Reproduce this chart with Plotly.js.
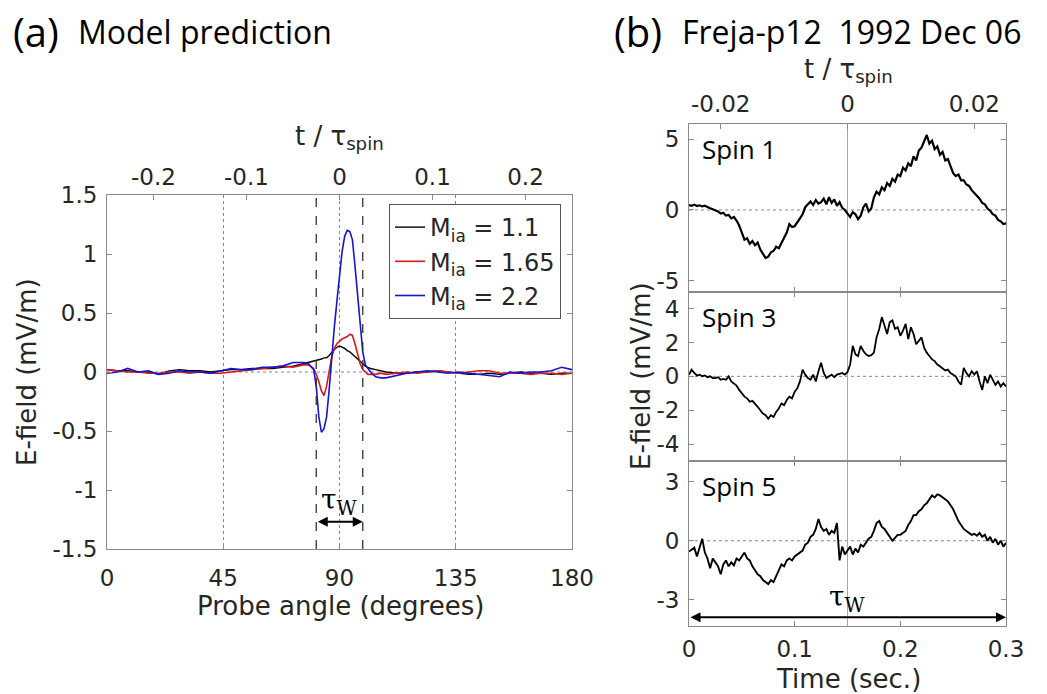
<!DOCTYPE html>
<html>
<head>
<meta charset="utf-8">
<script src="https://cdn.plot.ly/plotly-3.0.1.min.js"></script>
<style>html,body{margin:0;padding:0;background:#fff;}#chart{width:1047px;height:694px;}</style>
</head>
<body>
<div id="chart"></div>
<script>
// ---------- Panel (a): model prediction ----------
const angle = [0,4,8,12,16,20,24,28,32,36,40,44,48,52,56,60,64,68,72,76,
  78,80,81,82,83,84,85,86,87,88,89,90,91,92,93,94,95,96,97,98,99,100,101,102,
  104,106,108,112,116,120,124,128,132,136,140,144,148,152,156,160,164,168,172,176,180];
const eM110 = [0.02,0.01,0.01,0.0,0.0,-0.02,0.01,0.02,0.01,0.01,0.0,0.01,0.02,0.02,0.03,0.03,0.03,0.04,0.05,0.07,
  0.08,0.09,0.1,0.1,0.11,0.12,0.12,0.14,0.17,0.19,0.21,0.22,0.21,0.2,0.18,0.17,0.15,0.13,0.11,0.09,0.07,0.05,0.04,0.03,
  0.02,0.01,0.0,-0.01,-0.01,0.0,0.0,0.01,0.0,-0.01,-0.02,-0.02,-0.01,-0.02,-0.01,0.0,-0.01,-0.01,-0.02,-0.01,-0.01];
const eM165 = [0.02,0.01,0.0,0.0,-0.01,-0.01,0.0,0.0,-0.01,0.0,-0.01,-0.01,0.0,0.01,0.02,0.03,0.04,0.05,0.04,0.06,
  0.06,0.03,-0.02,-0.08,-0.16,-0.2,-0.12,0.01,0.13,0.2,0.24,0.26,0.28,0.29,0.3,0.32,0.31,0.24,0.15,0.07,0.02,0.0,-0.02,-0.02,
  -0.02,-0.01,-0.02,-0.01,0.0,-0.01,0.0,0.01,0.0,-0.01,0.0,0.01,0.01,-0.01,-0.01,-0.01,-0.02,-0.01,-0.01,-0.02,-0.01];
const eM220 = [-0.01,0.0,0.03,0.0,0.01,-0.02,-0.01,0.01,0.0,0.0,-0.01,0.01,0.03,0.02,0.02,0.04,0.04,0.05,0.08,0.08,
  0.07,0.02,-0.12,-0.38,-0.51,-0.48,-0.38,-0.15,0.14,0.38,0.6,0.82,1.02,1.15,1.2,1.19,1.12,0.9,0.65,0.4,0.17,0.06,0.03,0.0,
  -0.04,-0.05,-0.05,-0.03,-0.01,0.0,0.01,0.0,-0.01,0.0,-0.01,-0.02,-0.03,-0.04,0.0,-0.01,0.0,0.0,0.01,0.04,0.02];
const legendNames = ['M<sub>ia</sub> = 1.1','M<sub>ia</sub> = 1.65','M<sub>ia</sub> = 2.2'];
const tauWEdges = [81, 99];          // probe angles of the tau_W window
const angleTicks = [0,45,90,135,180];
const aYTicks = [-1.5,-1,-0.5,0,0.5,1,1.5];
const aYTickText = ['-1.5','-1','-0.5','0','0.5','1','1.5'];
const aTopTicks = [-0.2,-0.1,0,0.1,0.2];
const aTopTickText = ['-0.2','-0.1','0','0.1','0.2'];

// ---------- Panel (b): Freja observations ----------
const time = [0,0.0025,0.005,0.0075,0.01,0.0125,0.015,0.0175,0.02,0.0225,
  0.025,0.0275,0.03,0.0325,0.035,0.0375,0.04,0.0425,0.045,0.0475,
  0.05,0.0525,0.055,0.0575,0.06,0.0625,0.065,0.0675,0.07,0.0725,
  0.075,0.0775,0.08,0.0825,0.085,0.0875,0.09,0.0925,0.095,0.0975,
  0.1,0.1025,0.105,0.1075,0.11,0.1125,0.115,0.1175,0.12,0.1225,
  0.125,0.1275,0.13,0.1325,0.135,0.1375,0.14,0.1425,0.145,0.1475,
  0.15,0.1525,0.155,0.1575,0.16,0.1625,0.165,0.1675,0.17,0.1725,
  0.175,0.1775,0.18,0.1825,0.185,0.1875,0.19,0.1925,0.195,0.1975,
  0.2,0.2025,0.205,0.2075,0.21,0.2125,0.215,0.2175,0.22,0.2225,
  0.225,0.2275,0.23,0.2325,0.235,0.2375,0.24,0.2425,0.245,0.2475,
  0.25,0.2525,0.255,0.2575,0.26,0.2625,0.265,0.2675,0.27,0.2725,
  0.275,0.2775,0.28,0.2825,0.285,0.2875,0.29,0.2925,0.295,0.2975,
  0.3];
const spin1 = [0.35,0.3,0.38,0.28,0.33,0.25,0.3,0.18,0.12,0.05,
  0.0,-0.1,-0.25,-0.2,-0.4,-0.35,-0.6,-0.5,-0.75,-1.1,
  -1.6,-2.1,-2.0,-2.4,-2.2,-2.5,-2.3,-2.8,-3.1,-3.4,
  -3.3,-3.0,-2.9,-2.6,-2.7,-2.3,-2.0,-1.6,-1.0,-1.2,
  -1.15,-0.9,-0.6,-0.3,0.2,0.4,0.6,0.35,0.7,0.45,
  0.55,0.8,0.4,0.9,0.5,0.75,0.3,0.55,0.15,0.0,
  -0.3,-0.5,-0.15,-0.3,-0.65,-0.4,0.2,0.45,-0.1,0.1,
  0.9,1.3,1.1,1.6,1.4,1.9,1.7,2.2,2.0,2.5,
  2.4,3.0,2.8,3.3,3.1,3.8,3.5,4.2,4.4,4.8,
  5.3,4.7,4.9,4.3,4.5,3.9,4.1,3.5,3.6,3.1,
  2.6,2.4,2.5,2.1,2.1,1.8,1.7,1.4,1.2,1.0,
  0.8,0.5,0.4,0.1,-0.05,-0.3,-0.4,-0.7,-0.8,-1.0,
  -0.95];
const spin3 = [0.1,0.4,0.2,0.05,0.1,0.0,0.05,-0.05,0.0,-0.1,
  -0.1,-0.05,-0.2,-0.15,-0.2,0.0,-0.3,-0.4,-0.55,-0.8,
  -1.0,-1.2,-1.3,-1.5,-1.45,-1.6,-1.8,-2.0,-2.2,-2.3,
  -2.5,-2.3,-2.4,-2.1,-1.9,-1.6,-1.7,-1.4,-1.2,-1.3,
  -0.9,-0.7,-0.3,0.4,0.1,-0.1,-0.2,0.1,-0.3,0.3,
  0.8,0.2,-0.1,0.0,0.1,-0.05,0.1,0.15,0.2,0.1,
  0.25,0.7,1.8,1.3,1.2,1.8,1.5,1.3,1.2,1.25,
  1.4,2.3,2.8,3.5,3.0,2.5,3.2,3.3,2.8,2.9,
  2.4,2.7,3.1,2.2,2.9,2.5,1.9,2.1,2.3,1.7,
  1.4,1.2,1.0,0.9,0.7,0.6,0.5,0.35,0.4,0.2,
  0.1,0.0,-0.3,-0.5,0.5,0.2,0.0,0.3,0.1,0.3,
  -0.3,-0.8,0.0,-0.4,0.1,-0.2,-0.5,-0.3,-0.6,-0.4,
  -0.6];
const spin5 = [-0.55,-0.45,-0.35,-0.8,-0.3,0.1,-0.6,-0.9,-1.4,-0.9,
  -1.1,-1.3,-1.7,-1.2,-1.0,-1.3,-1.1,-1.25,-0.9,-1.0,
  -0.8,-0.6,-0.9,-1.0,-1.3,-1.5,-1.7,-1.8,-2.0,-2.1,
  -2.2,-2.0,-2.1,-1.8,-1.5,-1.2,-1.3,-1.0,-0.9,-1.0,
  -0.8,-0.7,-0.6,-0.5,-0.2,-0.1,0.2,0.3,0.6,1.1,
  0.7,0.5,0.6,0.3,0.5,0.4,0.9,-1.0,-0.3,-0.7,
  -0.5,-0.3,-0.7,-0.4,-0.6,-0.2,-0.3,-0.1,0.1,0.2,
  0.5,0.9,1.0,0.7,0.6,0.4,0.2,0.0,0.15,0.3,
  0.3,0.4,0.5,0.8,1.0,1.3,1.3,1.5,1.6,1.8,
  1.9,2.1,2.3,2.2,2.35,2.3,2.2,2.1,2.0,1.8,
  1.6,1.3,1.0,0.8,0.6,0.5,0.4,0.3,0.35,0.25,
  0.4,0.2,0.3,0.0,0.2,-0.1,0.1,-0.2,0.0,-0.3,
  -0.1];
const spinNames = ['Spin 1','Spin 3','Spin 5'];
const timeTicks = [0,0.1,0.2,0.3];
const timeTickText = ['0','0.1','0.2','0.3'];
const bTopTicks = [-0.02,0,0.02];
const bTopTickText = ['-0.02','0','0.02'];
const s1Ticks = [-5,0,5], s1Text = ['-5','0','5'];
const s3Ticks = [-4,-2,0,2,4], s3Text = ['-4','-2','0','2','4'];
const s5Ticks = [-3,0,3], s5Text = ['-3','0','3'];
const tauWSpan = [0, 0.3];
const tauWCentre = 0.15;

// ---------- styling ----------
const W = 1047, H = 694;
const TXT = '#262626', AX = '#8a8a8a';
const tickFont = {family:'DejaVu Sans', size:23, color:TXT};
const titleFont = {family:'DejaVu Sans', size:26, color:TXT};
const headFont = 'Open Sans';
const px = v => v / W;
const py = v => 1 - v / H;

function baseAxis(extra) {
  return Object.assign({
    showline:true, linecolor:AX, linewidth:1, mirror:'ticks',
    ticks:'inside', ticklen:5, tickcolor:AX, tickwidth:1,
    showgrid:false, zeroline:false, tickfont:tickFont, tickmode:'array'
  }, extra);
}

const traces = [
  {x:angle, y:eM110, name:legendNames[0], type:'scatter', mode:'lines', line:{color:'#000000', width:1.4}, xaxis:'x', yaxis:'y'},
  {x:angle, y:eM165, name:legendNames[1], type:'scatter', mode:'lines', line:{color:'#d7191c', width:1.6}, xaxis:'x', yaxis:'y'},
  {x:angle, y:eM220, name:legendNames[2], type:'scatter', mode:'lines', line:{color:'#1515d6', width:1.6}, xaxis:'x', yaxis:'y'},
  {x:time, y:spin1, name:spinNames[0], type:'scatter', mode:'lines', line:{color:'#000', width:2.2}, xaxis:'x3', yaxis:'y3', showlegend:false},
  {x:time, y:spin3, name:spinNames[1], type:'scatter', mode:'lines', line:{color:'#000', width:1.8}, xaxis:'x4', yaxis:'y4', showlegend:false},
  {x:time, y:spin5, name:spinNames[2], type:'scatter', mode:'lines', line:{color:'#000', width:1.9}, xaxis:'x5', yaxis:'y5', showlegend:false},
  // empty traces that only register the secondary (top) t/tau_spin axes
  {x:[], y:[], type:'scatter', mode:'lines', xaxis:'x2', yaxis:'y', showlegend:false, hoverinfo:'skip'},
  {x:[], y:[], type:'scatter', mode:'lines', xaxis:'x6', yaxis:'y3', showlegend:false, hoverinfo:'skip'}
];

const aX = [px(107), px(572)];
const aY = [py(549), py(195)];
const bX = [px(689), px(1006)];
const b1 = [py(291.7), py(124)];
const b3 = [py(461), py(291.7)];
const b5 = [py(626), py(461)];

const layout = {
  width:W, height:H, margin:{l:0,r:0,t:0,b:0},
  paper_bgcolor:'#fff', plot_bgcolor:'#fff',
  showlegend:true,
  legend:{x:px(561), xanchor:'right', y:py(204), yanchor:'top',
    bgcolor:'#fff', bordercolor:'#555', borderwidth:1,
    font:{family:'DejaVu Sans', size:24, color:TXT}, tracegroupgap:0},
  xaxis: baseAxis({domain:aX, anchor:'y', range:[0,180], tickvals:angleTicks, ticktext:angleTicks.map(String),
    mirror:true, showgrid:true, gridcolor:'#888', griddash:'dot', gridwidth:1, ticklabelstandoff:8}),
  yaxis: baseAxis({domain:aY, anchor:'x', range:[-1.5,1.5], tickvals:aYTicks, ticktext:aYTickText, ticklabelstandoff:4}),
  xaxis2: baseAxis({overlaying:'x', anchor:'y', side:'top', range:[-0.25,0.25], tickvals:aTopTicks, ticktext:aTopTickText,
    showline:false, mirror:false, ticklabelstandoff:4}),
  xaxis3: baseAxis({domain:bX, anchor:'y3', range:[0,0.3], tickvals:timeTicks, showticklabels:false, mirror:true}),
  yaxis3: baseAxis({domain:b1, anchor:'x3', range:[-5.78,6.08], tickvals:s1Ticks, ticktext:s1Text, ticklabelstandoff:4}),
  xaxis4: baseAxis({domain:bX, anchor:'y4', range:[0,0.3], tickvals:timeTicks, showticklabels:false}),
  yaxis4: baseAxis({domain:b3, anchor:'x4', range:[-5,5], tickvals:s3Ticks, ticktext:s3Text, ticklabelstandoff:4}),
  xaxis5: baseAxis({domain:bX, anchor:'y5', range:[0,0.3], tickvals:timeTicks, ticktext:timeTickText, ticklabelstandoff:2}),
  yaxis5: baseAxis({domain:b5, anchor:'x5', range:[-4.33,4.05], tickvals:s5Ticks, ticktext:s5Text, ticklabelstandoff:4}),
  xaxis6: baseAxis({overlaying:'x3', anchor:'y3', side:'top', range:[-0.025,0.025], tickvals:bTopTicks, ticktext:bTopTickText,
    showline:false, mirror:false, ticklabelstandoff:6}),
  shapes: [
    {type:'line', xref:'x domain', yref:'y', x0:0, x1:1, y0:0, y1:0, line:{color:'#888', width:1, dash:'dot'}, layer:'below'},
    {type:'line', xref:'x', yref:'y domain', x0:tauWEdges[0], x1:tauWEdges[0], y0:0, y1:1, line:{color:'#333', width:1.3, dash:'dash'}},
    {type:'line', xref:'x', yref:'y domain', x0:tauWEdges[1], x1:tauWEdges[1], y0:0, y1:1, line:{color:'#333', width:1.3, dash:'dash'}},
    {type:'line', xref:'x3 domain', yref:'y3', x0:0, x1:1, y0:0, y1:0, line:{color:'#888', width:1, dash:'dot'}, layer:'below'},
    {type:'line', xref:'x4 domain', yref:'y4', x0:0, x1:1, y0:0, y1:0, line:{color:'#888', width:1, dash:'dot'}, layer:'below'},
    {type:'line', xref:'x5 domain', yref:'y5', x0:0, x1:1, y0:0, y1:0, line:{color:'#888', width:1, dash:'dot'}, layer:'below'},
    {type:'line', xref:'x5', yref:'paper', x0:tauWCentre, x1:tauWCentre, y0:b5[0], y1:b1[1], line:{color:'#a8a8a8', width:1}, layer:'below'}
  ],
  annotations: [
    {text:'(a)', xref:'paper', yref:'paper', x:px(11), y:py(31), xanchor:'left', yanchor:'middle', showarrow:false, font:{family:headFont, size:40, color:'#000'}},
    {text:'Model prediction', xref:'paper', yref:'paper', x:px(76), y:py(31), xanchor:'left', yanchor:'middle', showarrow:false, font:{family:headFont, size:32, color:'#000'}},
    {text:'(b)', xref:'paper', yref:'paper', x:px(612), y:py(31), xanchor:'left', yanchor:'middle', showarrow:false, font:{family:headFont, size:40, color:'#000'}},
    {text:'Freja-p12\u00a0\u00a01992 Dec 06', xref:'paper', yref:'paper', x:px(680), y:py(31), xanchor:'left', yanchor:'middle', showarrow:false, font:{family:headFont, size:32, color:'#000'}},
    {text:'t / \u03c4<sub>spin</sub>', xref:'paper', yref:'paper', x:px(339), y:py(138), xanchor:'center', yanchor:'middle', showarrow:false, font:titleFont},
    {text:'t / \u03c4<sub>spin</sub>', xref:'paper', yref:'paper', x:px(848), y:py(70), xanchor:'center', yanchor:'middle', showarrow:false, font:titleFont},
    {text:'E-field (mV/m)', xref:'paper', yref:'paper', x:px(27), y:py(372), xanchor:'center', yanchor:'middle', textangle:-90, showarrow:false, font:titleFont},
    {text:'E-field (mV/m)', xref:'paper', yref:'paper', x:px(641), y:py(376), xanchor:'center', yanchor:'middle', textangle:-90, showarrow:false, font:titleFont},
    {text:'Probe angle (degrees)', xref:'paper', yref:'paper', x:px(340), y:py(606), xanchor:'center', yanchor:'middle', showarrow:false, font:titleFont},
    {text:'Time (sec.)', xref:'paper', yref:'paper', x:px(848), y:py(679), xanchor:'center', yanchor:'middle', showarrow:false, font:titleFont},
    {text:spinNames[0], xref:'x3 domain', yref:'y3 domain', x:0.035, y:0.97, xanchor:'left', yanchor:'top', showarrow:false, font:{family:headFont, size:26, color:'#000'}},
    {text:spinNames[1], xref:'x4 domain', yref:'y4 domain', x:0.035, y:0.97, xanchor:'left', yanchor:'top', showarrow:false, font:{family:headFont, size:26, color:'#000'}},
    {text:spinNames[2], xref:'x5 domain', yref:'y5 domain', x:0.035, y:0.97, xanchor:'left', yanchor:'top', showarrow:false, font:{family:headFont, size:26, color:'#000'}},
    // tau_W window arrows
    {text:'', xref:'x', yref:'y', axref:'x', ayref:'y', x:tauWEdges[1], y:-1.27, ax:tauWEdges[0], ay:-1.27,
      showarrow:true, arrowside:'end+start', arrowhead:2, startarrowhead:2, arrowsize:1, startarrowsize:1, arrowwidth:2, arrowcolor:'#000', standoff:0, startstandoff:0},
    {text:'\u03c4<sub>W</sub>', xref:'x', yref:'y', x:(tauWEdges[0]+tauWEdges[1])/2, y:-1.1, xanchor:'center', yanchor:'middle', showarrow:false,
      font:{family:'DejaVu Serif', size:28, color:'#000'}},
    {text:'', xref:'x5', yref:'y5', axref:'x5', ayref:'y5', x:tauWSpan[1], y:-3.89, ax:tauWSpan[0], ay:-3.89,
      showarrow:true, arrowside:'end+start', arrowhead:2, startarrowhead:2, arrowsize:1, startarrowsize:1, arrowwidth:2, arrowcolor:'#000', standoff:0, startstandoff:0},
    {text:'\u03c4<sub>W</sub>', xref:'x5', yref:'y5', x:tauWCentre, y:-2.95, xanchor:'center', yanchor:'middle', showarrow:false,
      font:{family:'DejaVu Serif', size:28, color:'#000'}}
  ]
};

Plotly.newPlot('chart', traces, layout, {staticPlot:true, displayModeBar:false});
</script>
</body>
</html>
